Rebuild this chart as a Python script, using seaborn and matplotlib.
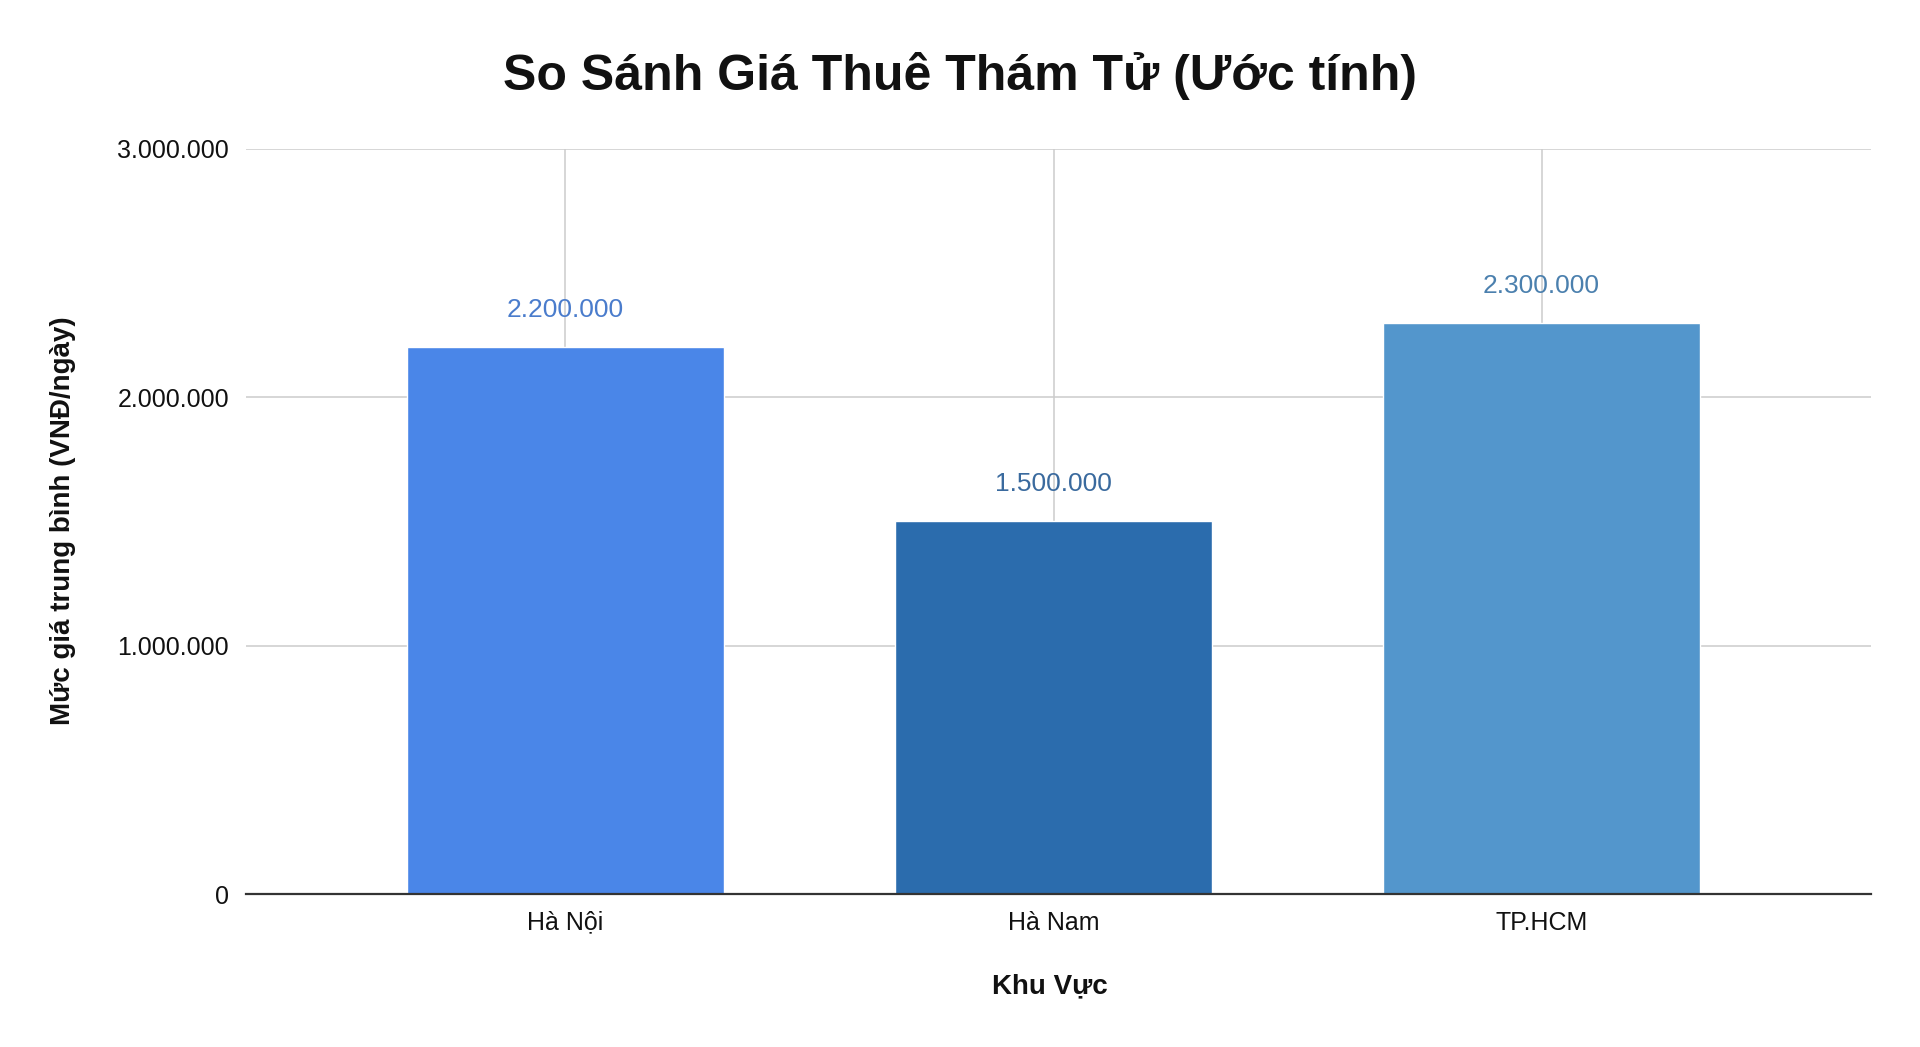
import matplotlib
matplotlib.use('Agg')
import matplotlib.pyplot as plt
import pandas as pd
import seaborn as sns
from matplotlib.ticker import FuncFormatter

# Data
regions = ['Hà Nội', 'Hà Nam', 'TP.HCM']
prices = [2200000, 1500000, 2300000]
bar_colors = ['#4a86e8', '#2b6cad', '#5396cc']
label_colors = ['#4a7ccc', '#3a6a9e', '#4b80ae']
yticks = [0, 1000000, 2000000, 3000000]

df = pd.DataFrame({'region': regions, 'price': prices})

sns.set_theme(style='white')
plt.rcParams['font.family'] = ['Liberation Sans', 'DejaVu Sans']

fig = plt.figure(figsize=(19.2, 10.47), dpi=100)
fig.patch.set_facecolor('white')
ax = fig.add_axes([0.128, 0.146, 0.8465, 0.712])

sns.barplot(data=df, x='region', y='price', hue='region', palette=bar_colors,
            width=0.65, legend=False, ax=ax, saturation=1, zorder=3)

# axes + grid lines
ax.set_ylim(0, 3000000)
ax.set_xlim(-0.655, 2.675)
ax.set_yticks(yticks)
ax.yaxis.set_major_formatter(FuncFormatter(lambda v, p: f'{int(v):,}'.replace(',', '.')))
ax.grid(True, axis='both', color='#cccccc', linewidth=1.1, zorder=0)
ax.set_axisbelow(True)
for s in ['top', 'right', 'left']:
    ax.spines[s].set_visible(False)
ax.spines['bottom'].set_color('#333333')
ax.spines['bottom'].set_linewidth(1.6)
ax.spines['bottom'].set_zorder(5)

ax.tick_params(axis='both', length=0, labelsize=18, colors='#111111')
ax.tick_params(axis='x', pad=12)
ax.tick_params(axis='y', pad=12)
ax.set_xlabel('')
ax.set_ylabel('')

# value labels above bars
for i, (val, col) in enumerate(zip(prices, label_colors)):
    ax.annotate(f'{val:,}'.replace(',', '.'), xy=(i, val), xytext=(0, 18),
                textcoords='offset points', ha='center', va='bottom',
                fontsize=19, color=col)

fig.text(0.5, 0.927, 'So Sánh Giá Thuê Thám Tử (Ước tính)', ha='center', va='center',
         fontsize=36, fontweight='bold', color='#111111')
fig.text(0.5466, 0.058, 'Khu Vực', ha='center', va='center', fontsize=20,
         fontweight='bold', color='#111111')
fig.text(0.033, 0.503, 'Mức giá trung bình (VNĐ/ngày)', ha='center', va='center',
         rotation=90, fontsize=20, fontweight='bold', color='#111111')

fig.savefig('out.png', dpi=100, facecolor='white')
